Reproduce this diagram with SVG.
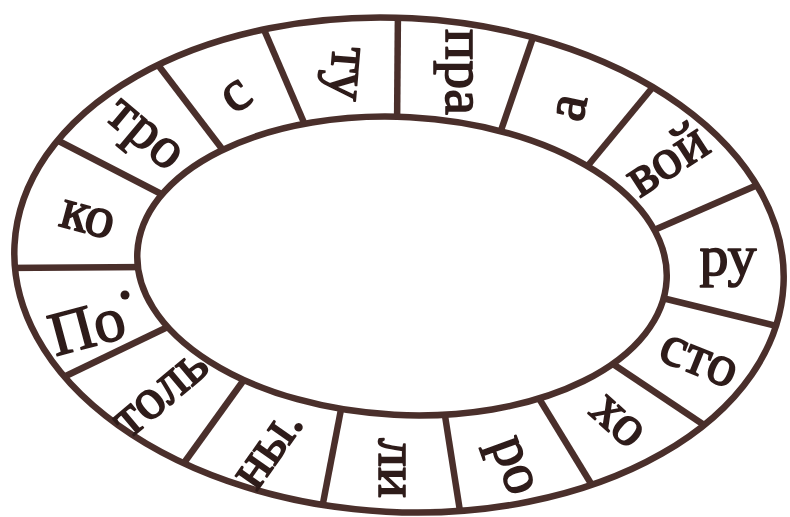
<svg xmlns="http://www.w3.org/2000/svg" width="790" height="517" viewBox="0 0 790 517">
<style>
.ring{fill:none;stroke:#4a2f2b;stroke-width:6.5}
.div{stroke:#4a2f2b;stroke-width:6.5;stroke-linecap:butt}
.t{font-family:"Liberation Serif","Times New Roman",serif;font-size:58px;fill:#2e1c1a;stroke:#2e1c1a;stroke-width:1.6;stroke-linejoin:round;text-anchor:middle}
</style>
<defs>
<mask id="ringmask" maskUnits="userSpaceOnUse" x="0" y="0" width="790" height="517">
<ellipse cx="399" cy="265" rx="385" ry="247" transform="rotate(3 399 265)" fill="#fff"/>
<ellipse cx="402" cy="266" rx="265" ry="149" transform="rotate(3 402 266)" fill="#000"/>
</mask>
</defs>
<rect width="790" height="517" fill="#fff"/>
<g id="connectors" mask="url(#ringmask)">
<line class="div" x1="0" y1="268" x2="150" y2="267"/>
<line class="div" x1="49" y1="136" x2="171" y2="199"/>
<line class="div" x1="155" y1="61" x2="229" y2="158"/>
<line class="div" x1="262" y1="25" x2="308" y2="132"/>
<line class="div" x1="398" y1="5" x2="397" y2="130"/>
<line class="div" x1="538" y1="23" x2="497" y2="142"/>
<line class="div" x1="662" y1="76" x2="581" y2="174"/>
<line class="div" x1="778" y1="176" x2="645" y2="234"/>
<line class="div" x1="797" y1="331" x2="650" y2="295"/>
<line class="div" x1="716" y1="433" x2="604" y2="358"/>
<line class="div" x1="601" y1="500" x2="532" y2="387"/>
<line class="div" x1="462" y1="524" x2="443" y2="403"/>
<line class="div" x1="319" y1="524" x2="343" y2="399"/>
<line class="div" x1="176" y1="474" x2="251" y2="370"/>
<line class="div" x1="45" y1="386" x2="178" y2="322"/>
</g>
<g id="ring">
<ellipse class="ring" cx="399" cy="265" rx="385" ry="247" transform="rotate(3 399 265)"/>
<ellipse class="ring" cx="402" cy="266" rx="265" ry="149" transform="rotate(3 402 266)"/>
</g>
<g id="s01"><text class="t" transform="translate(87 327) rotate(-15)" y="20" style="font-size:62px">По</text><circle cx="125" cy="295" r="4.5" fill="#2e1c1a"/></g>
<g id="s02"><text class="t" transform="translate(87 220) rotate(15)" y="13">ко</text></g>
<g id="s03"><text class="t" transform="translate(140 140) rotate(40)" y="7">тро</text></g>
<g id="s04"><text class="t" transform="translate(237 97) rotate(-35)" y="13">с</text></g>
<g id="s05"><text class="t" transform="translate(338 73) rotate(95)" y="7">ту</text></g>
<g id="s06"><text class="t" transform="translate(453 72) rotate(90)" y="7">пра</text></g>
<g id="s07"><text class="t" transform="translate(572 108) rotate(-78)" y="13">а</text></g>
<g id="s08"><text class="t" transform="translate(668 162) rotate(-33)" y="15">вой</text></g>
<g id="s09"><text class="t" transform="translate(728 268)" y="7">ру</text></g>
<g id="s10"><text class="t" transform="translate(698 362) rotate(22)" y="13">сто</text></g>
<g id="s11"><text class="t" transform="translate(617 422) rotate(42)" y="13">хо</text></g>
<g id="s12"><text class="t" transform="translate(507 468) rotate(70)" y="7">ро</text></g>
<g id="s13"><text class="t" transform="translate(392 468) rotate(90)" y="13">ли</text></g>
<g id="s14"><text class="t" transform="translate(270 450) rotate(-55)" y="13">ны.</text></g>
<g id="s15"><text class="t" transform="translate(162 395) rotate(-40)" y="13">толь</text></g>
</svg>
